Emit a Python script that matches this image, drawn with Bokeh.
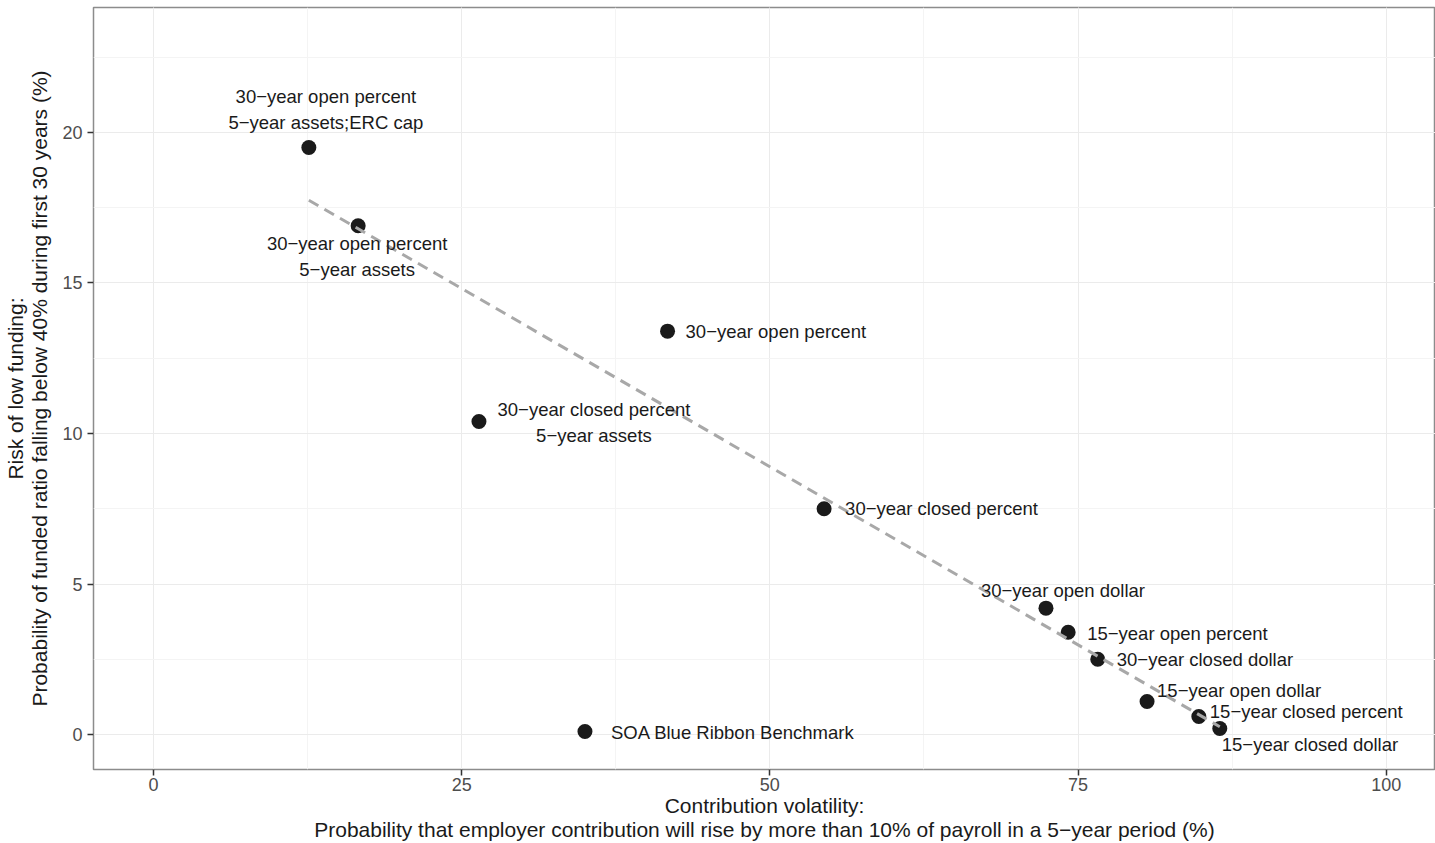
import numpy as np
from bokeh.plotting import figure
from bokeh.models import ColumnDataSource, SingleIntervalTicker, Range1d
from bokeh.core.properties import value
from bokeh.embed import file_html
from bokeh.resources import INLINE

# ---------------- data ----------------
policy_names = [
    "30\u2212year open percent\n5\u2212year assets;ERC cap",
    "30\u2212year open percent\n5\u2212year assets",
    "30\u2212year open percent",
    "30\u2212year closed percent\n5\u2212year assets",
    "30\u2212year closed percent",
    "30\u2212year open dollar",
    "15\u2212year open percent",
    "30\u2212year closed dollar",
    "15\u2212year open dollar",
    "15\u2212year closed percent",
    "15\u2212year closed dollar",
    "SOA Blue Ribbon Benchmark",
]
contribution_volatility = [12.6, 16.6, 41.7, 26.4, 54.4, 72.4, 74.2, 76.6, 80.6, 84.8, 86.5, 35.0]
low_funding_risk = [19.5, 16.9, 13.4, 10.4, 7.5, 4.2, 3.4, 2.5, 1.1, 0.6, 0.2, 0.1]
is_benchmark = [False] * 11 + [True]

x_ticks = [0, 25, 50, 75, 100]
y_ticks = [0, 5, 10, 15, 20]

# ---------------- label layout (screen px offsets) ----------------
label_layout = [
    (17, -51, "center"),
    (-1, 18, "center"),
    (18, 0, "left"),
    (115, -12, "center"),
    (21, 0, "left"),
    (17, -18, "center"),
    (19, 1, "left"),
    (19, 0, "left"),
    (10, -11, "left"),
    (11, -5, "left"),
    (2, 16, "left"),
    (26, 1, "left"),
]
LINE_STEP = 26

FONT = "Liberation Sans"

p = figure(
    width=1435, height=843,
    output_backend="svg", toolbar_location=None,
    x_range=Range1d(-4.87, 104.0), y_range=Range1d(-1.16, 24.15),
    min_border_left=93, min_border_right=0, min_border_top=7, min_border_bottom=73,
    background_fill_color="white", border_fill_color="white",
)

p.outline_line_color = "#8c8c8c"
p.outline_line_width = 1.5

p.xaxis.ticker = SingleIntervalTicker(interval=25, num_minor_ticks=2)
p.yaxis.ticker = SingleIntervalTicker(interval=5, num_minor_ticks=2)

for ax in (p.xaxis, p.yaxis):
    ax.axis_line_color = None
    ax.major_tick_line_color = "#333333"
    ax.major_tick_line_width = 1.5
    ax.major_tick_in = 0
    ax.major_tick_out = 6
    ax.minor_tick_line_color = None
    ax.major_label_text_font = FONT
    ax.major_label_text_font_size = "18px"
    ax.major_label_text_color = "#4d4d4d"
    ax.axis_label_text_font = FONT
    ax.axis_label_text_font_size = "21px"
    ax.axis_label_text_font_style = "normal"
    ax.axis_label_text_color = "#1a1a1a"

p.xaxis.axis_label = ("Contribution volatility:\nProbability that employer contribution will rise by "
                      "more than 10% of payroll in a 5\u2212year period (%)")
p.yaxis.axis_label = ("Risk of low funding:\nProbability of funded ratio falling below 40% "
                      "during first 30 years (%)")
p.xaxis.axis_label_text_line_height = 1.05
p.yaxis.axis_label_text_line_height = 1.05
p.xaxis.major_label_text_line_height = 1.0
p.xaxis.major_label_standoff = 2
p.xaxis.axis_label_standoff = 0
p.yaxis.major_label_standoff = 5
p.yaxis.axis_label_standoff = 8

p.grid.grid_line_color = "#ebebeb"
p.grid.grid_line_width = 1
p.grid.minor_grid_line_color = "#f4f4f4"
p.grid.minor_grid_line_width = 1

# points
src = ColumnDataSource(dict(x=contribution_volatility, y=low_funding_risk))
p.scatter("x", "y", source=src, size=15, fill_color="#1a1a1a", line_color=None)

# linear trend over the policies (benchmark excluded)
fx = np.array([x for x, b in zip(contribution_volatility, is_benchmark) if not b])
fy = np.array([y for y, b in zip(low_funding_risk, is_benchmark) if not b])
slope, intercept = np.polyfit(fx, fy, 1)
tx = np.array([fx.min(), fx.max()])
p.line(tx, slope * tx + intercept, line_color="#a8a8a8", line_width=3, line_dash="11 7")

# labels
lx, ly, lt, lxo, lyo, la = [], [], [], [], [], []
for name, x, y, (dx, dy, al) in zip(policy_names, contribution_volatility, low_funding_risk, label_layout):
    for j, line in enumerate(name.split("\n")):
        lx.append(x); ly.append(y); lt.append(line)
        lxo.append(dx); lyo.append(dy + j * LINE_STEP); la.append(al)
lsrc = ColumnDataSource(dict(x=lx, y=ly, text=lt, xo=lxo, yo=lyo, align=la))
p.text("x", "y", text="text", source=lsrc, x_offset="xo", y_offset="yo",
       text_align="align", text_baseline="middle",
       text_font=value(FONT), text_font_size="18.5px", text_color="#1a1a1a")

open("out.html", "w").write(file_html(p, INLINE))
